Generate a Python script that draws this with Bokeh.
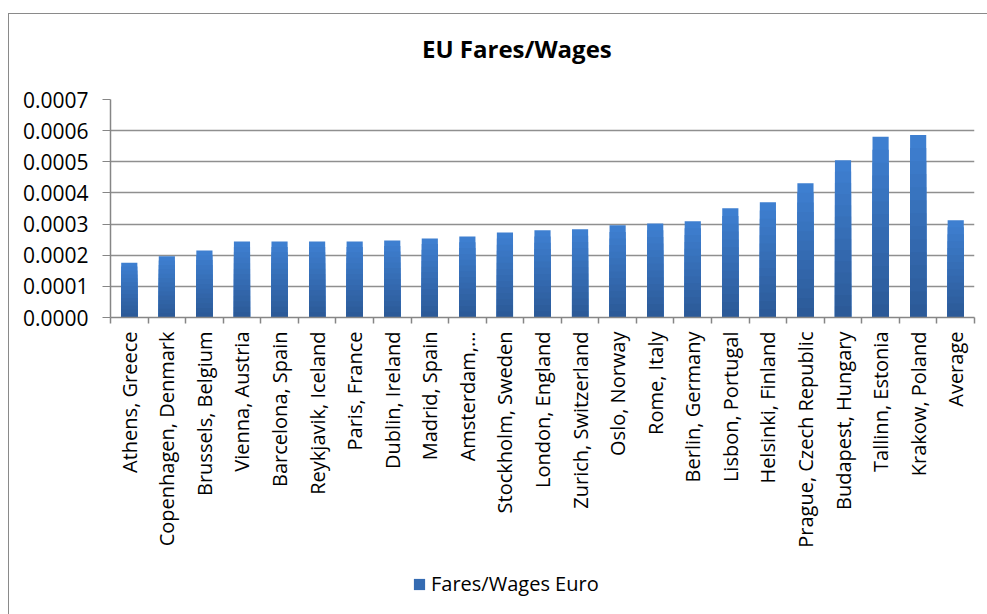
from bokeh.plotting import figure
from bokeh.layouts import column
from bokeh.models import (ColumnDataSource, FixedTicker, Legend, LegendItem,
                          Range1d, NumeralTickFormatter, Label)
from bokeh.embed import file_html
from bokeh.resources import INLINE

categories = ["Athens, Greece", "Copenhagen, Denmark", "Brussels, Belgium",
              "Vienna, Austria", "Barcelona, Spain", "Reykjavik, Iceland",
              "Paris, France", "Dublin, Ireland", "Madrid, Spain", "Amsterdam,…",
              "Stockholm, Sweden", "London, England", "Zurich, Switzerland",
              "Oslo, Norway", "Rome, Italy", "Berlin, Germany", "Lisbon, Portugal",
              "Helsinki, Finland", "Prague, Czech Republic", "Budapest, Hungary",
              "Tallinn, Estonia", "Krakow, Poland", "Average"]
fares_wages = [0.000176, 0.000197, 0.000215, 0.000244, 0.000244, 0.000244,
               0.000244, 0.000247, 0.000254, 0.000260, 0.000273, 0.000280,
               0.000283, 0.000296, 0.000302, 0.000309, 0.000351, 0.000370,
               0.000431, 0.000505, 0.000580, 0.000586, 0.000312]
chart_title = "EU Fares/Wages"
series_name = "Fares/Wages Euro"
y_ticks = [0.0, 0.0001, 0.0002, 0.0003, 0.0004, 0.0005, 0.0006, 0.0007]

FONT = "Open Sans"
GRID = "#8f8f8f"
W = 978

n = len(categories)
xs = [i + 0.5 for i in range(n)]


def strip(h):
    s = figure(width=W, height=h, output_backend="svg", toolbar_location=None,
               x_range=Range1d(0, W), y_range=Range1d(0, h),
               x_axis_location=None, y_axis_location=None,
               min_border_left=0, min_border_right=0, min_border_top=0,
               min_border_bottom=0)
    s.grid.visible = False
    s.outline_line_color = None
    s.border_fill_color = "white"
    s.background_fill_color = "white"
    return s


# title strip
TH = 69
pt = strip(TH)
pt.add_layout(Label(x=460, y=TH - 34, text=chart_title, text_font=FONT,
                    text_font_size="24px", text_font_style="bold",
                    text_color="#000000", text_align="center",
                    text_baseline="middle"))

# main chart
p = figure(width=W, height=482, output_backend="svg", toolbar_location=None,
           x_range=Range1d(0, n), y_range=Range1d(0, 0.0007),
           min_border_left=101, min_border_right=13, min_border_top=16,
           min_border_bottom=248)
p.outline_line_color = None
p.background_fill_color = "white"
p.border_fill_color = "white"

# gradient-like bars: stacked overlays, light at the top, dark at the bottom
light = (62, 127, 208)
dark = (44, 90, 152)
N = 14
mid_color = None
for k in range(N):
    f = 1 - k / N
    t = k / (N - 1)
    c = tuple(int(round(light[j] + (dark[j] - light[j]) * t)) for j in range(3))
    color = "#%02x%02x%02x" % c
    src = ColumnDataSource(dict(x=xs, top=[v * f for v in fares_wages]))
    p.vbar(x="x", top="top", width=0.43, source=src, fill_color=color,
           line_color=None)
    if k == N // 2:
        mid_color = color

# x axis
p.xaxis.ticker = FixedTicker(ticks=xs, minor_ticks=list(range(n + 1)))
p.xaxis.major_label_overrides = {x: c for x, c in zip(xs, categories)}
p.xaxis.major_label_orientation = 1.5707963
p.xaxis.major_tick_line_color = None
p.xaxis.minor_tick_out = 6
p.xaxis.minor_tick_in = 0
p.xaxis.minor_tick_line_color = "#868686"
p.xaxis.minor_tick_line_width = 1.5
p.xaxis.axis_line_color = "#868686"
p.xaxis.axis_line_width = 1.5
p.xaxis.major_label_text_font = FONT
p.xaxis.major_label_text_font_size = "20px"
p.xaxis.major_label_text_color = "#000000"
p.xaxis.major_label_standoff = 8
p.xgrid.grid_line_color = None

# y axis
p.yaxis.ticker = FixedTicker(ticks=y_ticks)
p.yaxis.formatter = NumeralTickFormatter(format="0.0000")
p.yaxis.axis_line_color = "#868686"
p.yaxis.axis_line_width = 1.5
p.yaxis.major_tick_line_color = "#868686"
p.yaxis.major_tick_out = 8
p.yaxis.major_tick_in = 0
p.yaxis.minor_tick_line_color = None
p.yaxis.major_label_text_font = FONT
p.yaxis.major_label_text_font_size = "21px"
p.yaxis.major_label_text_color = "#000000"
p.yaxis.major_label_standoff = 14
p.ygrid.grid_line_color = GRID
p.ygrid.grid_line_width = 1.5

# legend strip below the chart
pl = strip(49)
lr = pl.vbar(x="x", top="top", width=1,
             source=ColumnDataSource(dict(x=[float("nan")], top=[float("nan")])),
             fill_color=mid_color, line_color=None)
legend = Legend(items=[LegendItem(label=series_name, renderers=[lr])],
                orientation="horizontal", location=(302, 17),
                label_text_font=FONT, label_text_font_size="20px",
                label_text_color="#000000",
                glyph_width=14, glyph_height=14, border_line_color=None,
                background_fill_alpha=0, padding=5, margin=0)
pl.add_layout(legend)

layout = column(pt, p, pl, spacing=0,
                styles={"margin-left": "8px", "margin-top": "13px",
                        "border-left": "1px solid #8a8a8a",
                        "border-top": "1px solid #8a8a8a"})

open("out.html", "w").write(file_html(layout, INLINE))
